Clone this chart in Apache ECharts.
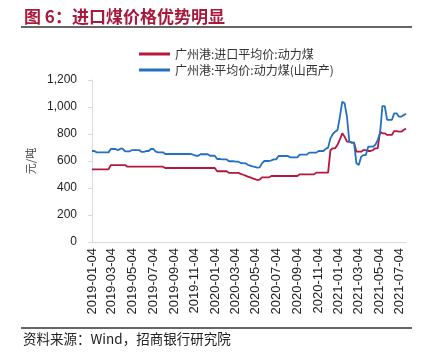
<!DOCTYPE html>
<html>
<head>
<meta charset="utf-8">
<script src="https://cdn.jsdelivr.net/npm/echarts@6/dist/echarts.min.js"></script>
<style>
html,body{margin:0;padding:0;background:#fff;}
#chart{width:429px;height:361px;}
</style>
</head>
<body>
<div id="chart"></div>
<script>
// ---- data ----
var startDate = [2019, 0, 4];      // first weekly observation (Friday)
var weekCount = 134;               // weekly observations up to 2021-07-23
var seriesNames = ['广州港:进口平均价:动力煤', '广州港:平均价:动力煤(山西产)'];
var importPrice = [
  538,538,538,538,538,538,538,538,
  570,570,570,570,570,570,570,
  558,558,558,558,558,558,558,558,558,558,558,558,558,558,558,558,
  548,548,548,548,548,548,548,548,548,548,548,548,548,548,548,548,548,548,548,548,548,548,
  524,524,524,524,524,
  512,512,512,512,512,
  505,498,492,484,478,472,466,459,462,
  479,479,479,479,
  489,489,489,489,489,489,489,489,489,489,489,489,
  501,501,501,501,501,501,501,
  514,514,514,514,514,514,
  681,694,694,720,760,805,780,743,743,736,736,
  669,669,669,681,681,674,674,681,694,694,
  817,805,805,793,793,793,822,822,817,817,830,840
];
var shanxiPrice = [
  674,674,664,664,664,664,664,664,689,689,
  689,679,691,691,672,672,672,681,681,681,
  681,667,667,674,674,689,689,670,664,664,
  664,652,652,652,652,652,652,652,652,652,
  652,652,652,645,639,639,650,650,650,650,
  639,639,639,615,615,612,612,612,598,598,
  598,595,595,585,585,583,572,566,560,556,
  551,553,583,600,600,600,605,612,612,637,
  637,637,637,637,627,627,627,627,647,647,
  647,647,662,662,662,662,674,674,674,690,
  699,768,800,817,830,928,1039,1027,928,743,
  736,736,583,570,632,644,644,706,706,706,
  720,755,805,1007,1007,904,904,904,953,953,
  928,928,940,950
];
var tickLabels = ['2019-01-04','2019-03-04','2019-05-04','2019-07-04','2019-09-04','2019-11-04',
  '2020-01-04','2020-03-04','2020-05-04','2020-07-04','2020-09-04','2020-11-04',
  '2021-01-04','2021-03-04','2021-05-04','2021-07-04'];

// ---- build ----
function ts(s){ var p = s.split('-'); return Date.UTC(+p[0], +p[1]-1, +p[2]); }
var DAY = 86400000;
var t0 = Date.UTC(startDate[0], startDate[1], startDate[2]);
var dates = [];
for (var i = 0; i < weekCount; i++) dates.push(t0 + i * 7 * DAY);
function pair(vals){ return vals.map(function(v, i){ return [dates[i], v]; }); }
function fmtDate(v){
  var d = new Date(v);
  var m = d.getUTCMonth() + 1, dd = d.getUTCDate();
  return d.getUTCFullYear() + '-' + (m < 10 ? '0' : '') + m + '-' + (dd < 10 ? '0' : '') + dd;
}
var tickValues = tickLabels.map(ts);
var colors = ['#B4183C', '#2470C2'];

var chart = echarts.init(document.getElementById('chart'), null, {renderer: 'canvas'});
var option = {
  backgroundColor: '#fff',
  animation: false,
  textStyle: {fontFamily: 'Liberation Sans, Arial, sans-serif'},
  grid: {left: 92, right: 23, top: 80, bottom: 119, containLabel: false},
  legend: {
    orient: 'vertical', left: 134, top: 43, itemWidth: 31, itemHeight: 3, itemGap: 4,
    icon: 'rect',
    textStyle: {fontFamily: 'Noto Sans CJK SC', fontSize: 12, color: '#333', lineHeight: 12},
    data: [
      {name: seriesNames[0], itemStyle: {color: colors[0]}},
      {name: seriesNames[1], itemStyle: {color: colors[1]}}
    ]
  },
  xAxis: {
    type: 'value',
    min: dates[0], max: dates[dates.length - 1],
    axisLine: {show: true, lineStyle: {color: '#d9d9d9', width: 1}},
    axisTick: {show: false},
    splitLine: {show: false},
    axisLabel: {
      customValues: tickValues,
      rotate: 90, margin: 6, fontSize: 13, color: '#222',
      fontFamily: 'Liberation Sans, Arial, sans-serif',
      formatter: function(v){ return fmtDate(v); }
    }
  },
  yAxis: {
    type: 'value', min: 0, max: 1200, interval: 200,
    name: '元/吨', nameLocation: 'middle', nameGap: 50, nameRotate: 90,
    nameTextStyle: {fontFamily: 'Noto Sans CJK SC', fontSize: 11, color: '#444'},
    axisLine: {show: true, lineStyle: {color: '#d9d9d9', width: 1}},
    axisTick: {show: true, length: 4, lineStyle: {color: '#d9d9d9'}},
    splitLine: {show: false},
    axisLabel: {
      margin: 15, fontSize: 12, color: '#222',
      fontFamily: 'Liberation Sans, Arial, sans-serif',
      formatter: function(v){ return v.toLocaleString('en-US'); }
    }
  },
  series: [
    {name: seriesNames[0], type: 'line', symbol: 'none', data: pair(importPrice),
     lineStyle: {color: colors[0], width: 1.8}, itemStyle: {color: colors[0]}},
    {name: seriesNames[1], type: 'line', symbol: 'none', data: pair(shanxiPrice),
     lineStyle: {color: colors[1], width: 1.8}, itemStyle: {color: colors[1]}}
  ],
  graphic: [
    {type: 'text', left: 24, top: 8,
     style: {text: '图 6：进口煤价格优势明显', fill: '#A8193C', font: 'bold 17px "Noto Sans CJK SC"'}},
    {type: 'line', shape: {x1: 21, y1: 27, x2: 412, y2: 27}, style: {stroke: '#333', lineWidth: 1.5}},
    {type: 'line', shape: {x1: 21, y1: 328, x2: 412, y2: 328}, style: {stroke: '#333', lineWidth: 1.5}},
    {type: 'text', left: 23, top: 332,
     style: {text: '资料来源：Wind，招商银行研究院', fill: '#222', font: '13.5px "Noto Sans CJK SC"'}}
  ]
};
chart.setOption(option);
</script>
</body>
</html>
